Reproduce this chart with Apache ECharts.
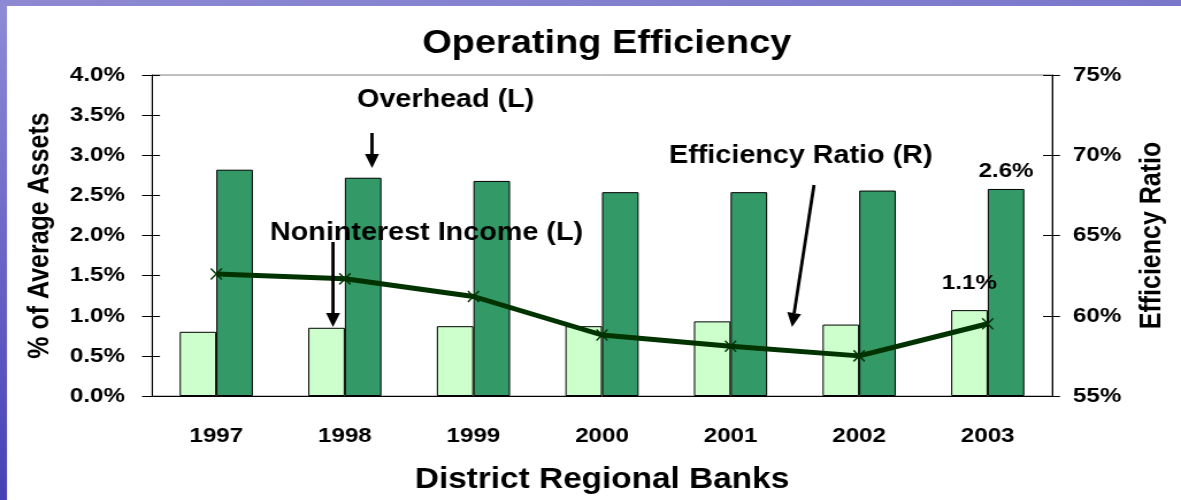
<!DOCTYPE html>
<html>
<head>
<meta charset="utf-8">
<script src="https://cdn.jsdelivr.net/npm/echarts@6/dist/echarts.min.js"></script>
<style>
  html, body { margin: 0; padding: 0; overflow: hidden; background: #fff; }
  /* the source slide is stretched sideways, so draw narrower and stretch it back */
  #chart { width: 1027px; height: 500px; transform: scaleX(1.14995); transform-origin: 0 0; }
</style>
</head>
<body>
<div id="chart"></div>
<script>
// data
const years = ['1997', '1998', '1999', '2000', '2001', '2002', '2003']
const nonInterestIncome = [0.80, 0.85, 0.87, 0.87, 0.93, 0.89, 1.07] // % of avg assets (L)
const overhead = [2.82, 2.72, 2.68, 2.54, 2.54, 2.56, 2.58]         // % of avg assets (L)
const efficiencyRatio = [62.6, 62.3, 61.2, 58.8, 58.1, 57.5, 59.5] // % (R)
const leftTickLabels = ['0.0%', '0.5%', '1.0%', '1.5%', '2.0%', '2.5%', '3.0%', '3.5%', '4.0%']
const rightTickLabels = ['55%', '60%', '65%', '70%', '75%']

const W = 1027
const S = 1181 / W
const X = (x) => x / S // picture x -> chart x
const FONT = '"Liberation Sans", Arial, sans-serif'
const INK = '#000'
const LINE_GREEN = '#003300'

const chart = echarts.init(document.getElementById('chart'), null, { renderer: 'canvas' })

const labelStyle = { color: INK, fontFamily: FONT, fontWeight: 'bold', fontSize: 21 }

const arrow = (x1, y1, x2, y2) => {
  // shaft + head, in picture coords, mapped to chart coords
  const dx = x2 - x1, dy = y2 - y1
  const len = Math.hypot(dx, dy)
  const ux = dx / len, uy = dy / len
  const px = -uy, py = ux
  const hl = 14, hw = 7
  const bx = x2 - ux * hl, by = y2 - uy * hl
  return [
    {
      type: 'line', z: 100,
      shape: { x1: X(x1), y1, x2: X(bx), y2: by },
      style: { stroke: INK, lineWidth: 2.8 }
    },
    {
      type: 'polygon', z: 100,
      shape: { points: [[X(x2), y2], [X(bx + px * hw), by + py * hw], [X(bx - px * hw), by - py * hw]] },
      style: { fill: INK }
    }
  ]
}

const note = (text, x, y) => ({
  type: 'text', z: 100, x: X(x), y,
  style: { text, fill: INK, font: 'bold 25px ' + FONT, textVerticalAlign: 'middle' }
})

chart.setOption({
  animation: false,
  backgroundColor: '#fff',
  title: {
    text: 'Operating Efficiency',
    left: X(601), top: 22, textAlign: 'center',
    textStyle: { color: INK, fontFamily: FONT, fontWeight: 'bold', fontSize: 33 }
  },
  grid: {
    left: X(152), right: W - X(1052), top: 75, bottom: 104,
    show: true, borderColor: '#808080', borderWidth: 1, backgroundColor: '#fff'
  },
  xAxis: [
    {
      type: 'category', data: years, position: 'bottom',
      axisLine: { onZero: false, lineStyle: { color: INK, width: 1 } },
      axisTick: { length: 10, lineStyle: { color: INK } },
      axisLabel: { ...labelStyle, margin: 30 },
      name: 'District Regional Banks', nameLocation: 'middle', nameGap: 69,
      nameTextStyle: { color: INK, fontFamily: FONT, fontWeight: 'bold', fontSize: 29 }
    },
    {
      type: 'category', data: years, position: 'bottom',
      axisLine: { show: false },
      axisTick: { inside: true, length: 6, lineStyle: { color: INK } },
      axisLabel: { show: false }
    }
  ],
  yAxis: [
    {
      type: 'value', position: 'left', min: 0, max: 4, interval: 0.5,
      axisLine: { show: true, onZero: false, lineStyle: { color: INK, width: 1 } },
      axisTick: { show: true, length: X(10), lineStyle: { color: INK } },
      splitLine: { show: false },
      axisLabel: { ...labelStyle, margin: X(27), formatter: (v) => leftTickLabels[Math.round(v / 0.5)] },
      name: '% of Average Assets', nameLocation: 'middle', nameGap: 85,
      nameTextStyle: { color: INK, fontFamily: FONT, fontWeight: 'bold', fontSize: 25 }
    },
    {
      type: 'value', position: 'right', min: 55, max: 75, interval: 5,
      axisLine: { show: true, onZero: false, lineStyle: { color: INK, width: 1 } },
      axisTick: { show: true, length: X(8), lineStyle: { color: INK } },
      splitLine: { show: false },
      axisLabel: { ...labelStyle, margin: X(21), formatter: (v) => rightTickLabels[Math.round((v - 55) / 5)] },
      name: 'Efficiency Ratio', nameLocation: 'middle', nameGap: 75,
      nameTextStyle: { color: INK, fontFamily: FONT, fontWeight: 'bold', fontSize: 25 }
    },
    {
      type: 'value', position: 'left', min: 0, max: 4, interval: 0.5,
      axisLine: { show: false }, splitLine: { show: false }, axisLabel: { show: false },
      axisTick: { show: true, inside: true, length: X(8), lineStyle: { color: INK } }
    },
    {
      type: 'value', position: 'right', min: 55, max: 75, interval: 5,
      axisLine: { show: false }, splitLine: { show: false }, axisLabel: { show: false },
      axisTick: { show: true, inside: true, length: X(9), lineStyle: { color: INK } }
    }
  ],
  series: [
    {
      name: 'Noninterest Income (L)', type: 'bar', xAxisIndex: 0, yAxisIndex: 0,
      barWidth: X(36.6), barGap: '0%',
      itemStyle: { color: '#CCFFCC', borderColor: INK, borderWidth: 1 },
      data: nonInterestIncome.map((v, i) => i === nonInterestIncome.length - 1
        ? { value: v, label: { show: true, position: 'top', distance: 16, ...labelStyle, formatter: (p) => p.value.toFixed(1) + '%' } }
        : v)
    },
    {
      name: 'Overhead (L)', type: 'bar', xAxisIndex: 0, yAxisIndex: 0,
      barWidth: X(36.6), barGap: '0%',
      itemStyle: { color: '#339966', borderColor: INK, borderWidth: 1 },
      data: overhead.map((v, i) => i === overhead.length - 1
        ? { value: v, label: { show: true, position: 'top', distance: 7, ...labelStyle, formatter: (p) => p.value.toFixed(1) + '%' } }
        : v)
    },
    {
      name: 'Efficiency Ratio (R)', type: 'line', xAxisIndex: 0, yAxisIndex: 1,
      data: efficiencyRatio, z: 5,
      lineStyle: { color: LINE_GREEN, width: 5 },
      symbol: 'path://M0,0L10,10M10,0L0,10', symbolSize: [X(11), 11],
      itemStyle: { color: LINE_GREEN, borderColor: LINE_GREEN, borderWidth: 1.5 }
    }
  ],
  graphic: [
    // slide background showing at the left and top edges
    {
      type: 'rect', z: 200, shape: { x: 0, y: 0, width: X(7), height: 500 },
      style: { fill: new echarts.graphic.LinearGradient(0, 0, 0, 1, [
        { offset: 0, color: '#8e8cd6' }, { offset: 1, color: '#4640b6' }
      ]) }
    },
    {
      type: 'rect', z: 200, shape: { x: 0, y: 0, width: W, height: 6 },
      style: { fill: new echarts.graphic.LinearGradient(0, 0, 1, 0, [
        { offset: 0, color: '#8d89d2' }, { offset: 1, color: '#7b78cc' }
      ]) }
    },
    note('Overhead (L)', 357, 100),
    note('Noninterest Income (L)', 270, 233),
    note('Efficiency Ratio (R)', 669, 156),
    ...arrow(372, 133, 372, 168),
    ...arrow(333, 242, 333, 327),
    ...arrow(814, 185, 792, 327)
  ]
})

window.addEventListener('resize', () => chart.resize())
</script>
</body>
</html>
